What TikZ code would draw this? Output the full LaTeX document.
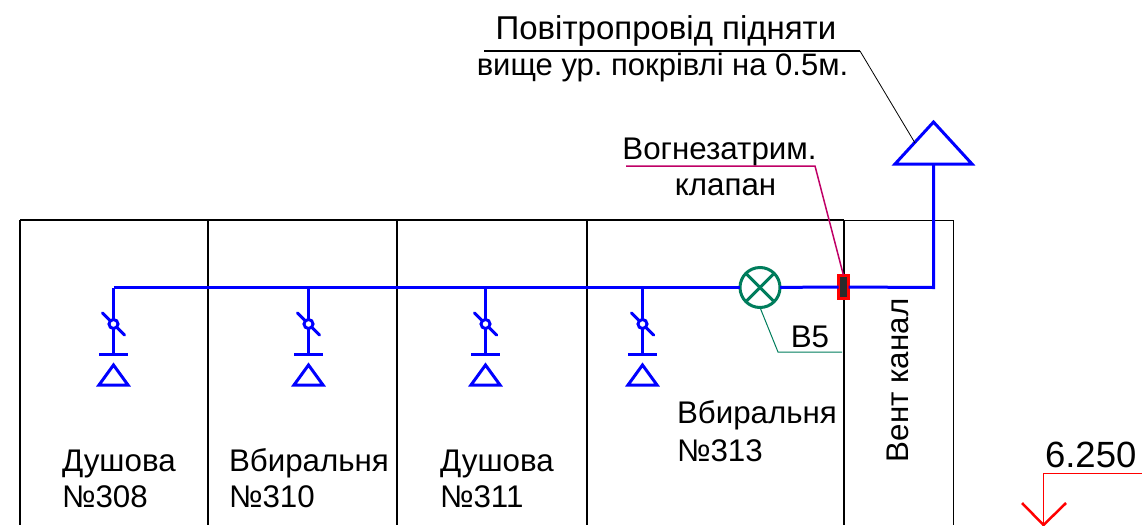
\documentclass[tikz,border=0pt]{standalone}
\usepackage{fontspec}
\setmainfont{Liberation Sans}
\frenchspacing
\usetikzlibrary {positioning,shapes.geometric}
\definecolor{wireblue}{rgb}{0, 0, 1}
\definecolor{valvegreen}{rgb}{0, 0.49, 0.36}
\definecolor{leadermagenta}{rgb}{0.75, 0, 0.4}
\definecolor{markred}{rgb}{1, 0, 0}
\definecolor{damperdark}{rgb}{0.17, 0.17, 0.17}

\begin{document}
\begin{tikzpicture}[x=1pt, y=-1pt, auto, node distance = 30pt and 30pt, on grid,
	wire/.style={draw=wireblue, line width=3pt},
	wall/.style={draw=black, line width=1.1pt},
	label/.style={font=\fontsize{31.3}{36}\selectfont, inner sep=0pt, outer sep=0pt},
	roomlabel/.style={label, align=left, anchor=base west},
	hub/.style={circle, draw=wireblue, fill=white, line width=3pt, minimum size=9pt, inner sep=0pt, outer sep=0pt},
	tbar/.style={rectangle, fill=wireblue, minimum width=29pt, minimum height=3pt, inner sep=0pt, outer sep=0pt},
	outlet/.style={isosceles triangle, isosceles triangle stretches, shape border rotate=90, draw=wireblue, line width=3pt, minimum width=29pt, minimum height=20pt, inner sep=0pt, outer sep=0pt},
	roof/.style={outlet, minimum width=77pt, minimum height=42pt},
	valve/.style={circle, draw=valvegreen, fill=white, line width=3pt, minimum size=40pt, inner sep=0pt, outer sep=0pt},
	damper/.style={rectangle, draw=markred, fill=damperdark, line width=3pt, minimum width=10pt, minimum height=23pt, inner sep=0pt, outer sep=0pt}]
			\useasboundingbox (0,0) rectangle (1142,525);
			% walls
			\coordinate (W0T) at (20,220);
			\coordinate (W1T) at (208,220);
			\coordinate (W2T) at (397,220);
			\coordinate (W3T) at (587,220);
			\coordinate (W4T) at (844,220);
			\coordinate (W5T) at (953,220);
			\path [wall] (W0T) -- (W4T);
			\path [draw=black, line width=0.8pt] (W4T) -- (W5T);
			\path [wall] (W0T) -- (20,525);
			\path [wall] (W1T) -- (208,525);
			\path [wall] (W2T) -- (397,525);
			\path [wall] (W3T) -- (587,525);
			\path [wall] (W4T) -- (844,525);
			\path [draw=black, line width=0.8pt] (W5T) -- (953,525);
			% duct
			\coordinate (D0) at (113.5,287.5);
			\coordinate (D1) at (308.5,287.5);
			\coordinate (D2) at (485.5,287.5);
			\coordinate (D3) at (642.5,287.5);
			\coordinate (D4) at (933.5,287.5);
			\node [valve] (VALVE) at (760,287.5) {};
			\node [damper] (DAMPER) at (843.5,287) {};
			\node [roof, anchor=apex] (ROOF) at (933.5,122) {};
			\path [wire] (D0) -- (VALVE);
			\path [wire] (VALVE) -- (DAMPER);
			\path [wire] (DAMPER) -- (D4) -- (ROOF.south -| D4);
			\path [draw=valvegreen, line width=3pt] (VALVE.45) -- (VALVE.225);
			\path [draw=valvegreen, line width=3pt] (VALVE.135) -- (VALVE.-45);
			% terminals
			\node [hub] (H308) at (113.5,324) {};
			\node [tbar] (T308) [below =of H308] {};
			\node [outlet, anchor=apex] (O308) at (113.5,365) {};
			\path [wire] (D0) -- (H308);
			\path [wire] (H308) -- (T308);
			\path [wire, line cap=round] (H308.135) -- +(-8,-8);
			\path [wire, line cap=round] (H308.-45) -- +(8,8);
			\node [hub] (H310) at (308.5,324) {};
			\node [tbar] (T310) [below =of H310] {};
			\node [outlet, anchor=apex] (O310) at (308.5,365) {};
			\path [wire] (D1) -- (H310);
			\path [wire] (H310) -- (T310);
			\path [wire, line cap=round] (H310.135) -- +(-8,-8);
			\path [wire, line cap=round] (H310.-45) -- +(8,8);
			\node [hub] (H311) at (485.5,324) {};
			\node [tbar] (T311) [below =of H311] {};
			\node [outlet, anchor=apex] (O311) at (485.5,365) {};
			\path [wire] (D2) -- (H311);
			\path [wire] (H311) -- (T311);
			\path [wire, line cap=round] (H311.135) -- +(-8,-8);
			\path [wire, line cap=round] (H311.-45) -- +(8,8);
			\node [hub] (H313) at (642.5,324) {};
			\node [tbar] (T313) [below =of H313] {};
			\node [outlet, anchor=apex] (O313) at (642.5,365) {};
			\path [wire] (D3) -- (H313);
			\path [wire] (H313) -- (T313);
			\path [wire, line cap=round] (H313.135) -- +(-8,-8);
			\path [wire, line cap=round] (H313.-45) -- +(8,8);
			% room labels
			\node [roomlabel] (R308) at (62,507) {Душова\\№308};
			\node [roomlabel] (R310) at (229,507) {Вбиральня\\№310};
			\node [roomlabel] (R311) at (440,507) {Душова\\№311};
			\node [roomlabel] (R313) at (677,461) {Вбиральня\\[2pt]№313};
			\node [label, rotate=90, anchor=base west] (CHANNEL) at (908,462) {Вент канал};
			% leaders
			\node [label, anchor=base] (B5) at (810,347) {В5};
			\coordinate (B5K) at (778,352);
			\coordinate (B5E) at (842,352);
			\path [draw=valvegreen, line width=1pt] (VALVE.south) -- (B5K) -- (B5E);
			\node [label, anchor=base] (FIRE1) at (719.5,159) {Вогнезатрим.};
			\node [label, anchor=base] (FIRE2) at (725.5,195) {клапан};
			\coordinate (FIREL) at (626,166);
			\coordinate (FIREK) at (815,166);
			\path [draw=leadermagenta, line width=1.5pt] (FIREL) -- (FIREK) -- (DAMPER.north);
			\node [label, font=\fontsize{33}{36}\selectfont, anchor=base] (NOTE1) at (666,39) {Повітропровід підняти};
			\node [label, font=\fontsize{31}{36}\selectfont, anchor=base] (NOTE2) at (662.5,75) {вище ур. покрівлі на 0.5м.};
			\coordinate (NOTEL) at (484,51);
			\coordinate (NOTEK) at (860,51);
			\coordinate (NOTEE) at (915,143);
			\path [draw=black, line width=1.2pt] (NOTEL) -- (NOTEK);
			\path [draw=black, line width=0.8pt] (NOTEK) -- (NOTEE);
			% level mark
			\node [label, font=\fontsize{36.5}{40}\selectfont, anchor=base west] (LEVEL) at (1045,467) {6.250};
			\coordinate (LEVELK) at (1043.5,473.5);
			\coordinate (LEVELR) at (1142,473.5);
			\coordinate (LEVELT) at (1043.5,525);
			\path [draw=markred, line width=0.8pt] (LEVELR) -- (LEVELK) -- (LEVELT);
			\path [draw=markred, line width=2.5pt] (1022,503) -- (LEVELT) -- (1066,503);
		\end{tikzpicture}
\end{document}
